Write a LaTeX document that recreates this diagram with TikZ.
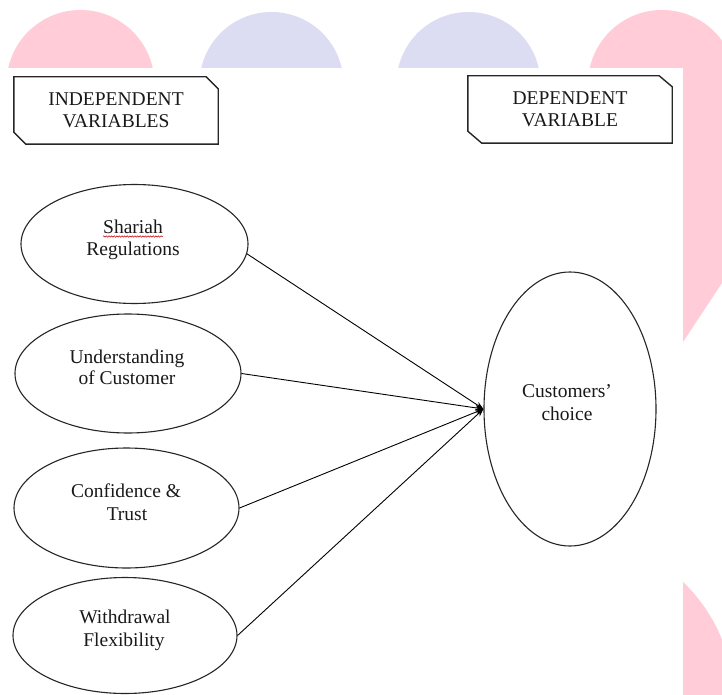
\documentclass[tikz,border=0pt]{standalone}
\usepackage{fontspec}
\setmainfont{Liberation Serif}
\usetikzlibrary{shapes.geometric,arrows.meta,decorations.pathmorphing}
\definecolor{decopink}{RGB}{255,204,216}
\definecolor{decolav}{RGB}{220,220,242}
\begin{document}
\begin{tikzpicture}[x=1pt,y=-1pt,
  ell/.style={draw=black!85, line width=1.1pt, ellipse, inner sep=0pt},
  lbl/.style={anchor=base, inner sep=0pt, font=\fontsize{19.5}{21.5}\selectfont, text=black!90},
  hdrbox/.style={rectangle, minimum width=204pt, minimum height=67pt, inner sep=0pt, align=center, font=\fontsize{19.5}{21.5}\selectfont, text=black!90},
  hdrline/.style={draw=black!85, line width=1.4pt, line join=miter},
  conn/.style={line width=0.9pt, -{Stealth[length=8pt,width=6pt]}},
  squiggle/.style={draw=red!75!black, line width=0.5pt, decorate, decoration={snake, amplitude=0.7pt, segment length=2.6pt}}
]
\useasboundingbox (0,0) rectangle (722,695);
% background decorations
\fill[white] (0,0) rectangle (722,695);
\fill[decopink] (80.5,84) circle[radius=74pt];
\fill[decolav] (271.5,84) circle[radius=72pt];
\fill[decolav] (468.5,84) circle[radius=72pt];
\fill[decopink] (662,84) circle[radius=74pt];
\fill[decopink] (683,68) -- (683,342) -- (722,283) -- (722,68) -- cycle;
\fill[white] (0,68) rectangle (683,695);
\fill[decopink] (683,695) -- (683,582) .. controls (698,596) and (714,618) .. (722,640) -- (722,695) -- cycle;

% header boxes
\node[hdrbox] (indep) at (116,110.5) {INDEPENDENT\\VARIABLES};
\draw[hdrline] (indep.north west) -- ([xshift=-12pt]indep.north east) -- ([yshift=-12pt]indep.north east) -- (indep.south east) -- ([xshift=12pt]indep.south west) -- ([yshift=12pt]indep.south west) -- cycle;
\node[hdrbox] (dep) at (570,109.5) {DEPENDENT\\VARIABLE};
\draw[hdrline] (dep.north west) -- ([xshift=-13pt]dep.north east) -- ([yshift=-11pt]dep.north east) -- (dep.south east) -- ([xshift=14pt]dep.south west) -- ([yshift=12pt]dep.south west) -- cycle;

% ellipses
\node[ell, minimum width=227pt, minimum height=119pt] (shar) at (134.5,244) {};
\node[ell, minimum width=226pt, minimum height=119pt] (und) at (128,373.5) {};
\node[ell, minimum width=225pt, minimum height=120pt] (conf) at (126.5,508) {};
\node[ell, minimum width=224pt, minimum height=116pt] (with) at (125,635.5) {};
\node[ell, minimum width=172pt, minimum height=274pt] (cust) at (570,409) {};

% connectors
\draw[conn] (shar.-5) -- (cust.west);
\draw[conn] (und.east) -- (cust.west);
\draw[conn] (conf.east) -- (cust.west);
\draw[conn] (with.east) -- (cust.west);

% labels
\node[lbl] (shar1) at (133,233) {Shariah};
\node[lbl] (shar2) at (133,255) {Regulations};
\draw[squiggle] ([yshift=-3.5pt]shar1.base west) -- ([yshift=-3.5pt]shar1.base east);
\node[lbl] (und1) at (127,363) {Understanding};
\node[lbl] (und2) at (127,384) {of Customer};
\node[lbl] (conf1) at (126,497) {Confidence \&};
\node[lbl] (conf2) at (127,520) {Trust};
\node[lbl] (with1) at (125,623) {Withdrawal};
\node[lbl] (with2) at (124,646) {Flexibility};
\node[lbl] (cust1) at (567,397) {Customers’};
\node[lbl] (cust2) at (567,420) {choice};
\end{tikzpicture}
\end{document}
